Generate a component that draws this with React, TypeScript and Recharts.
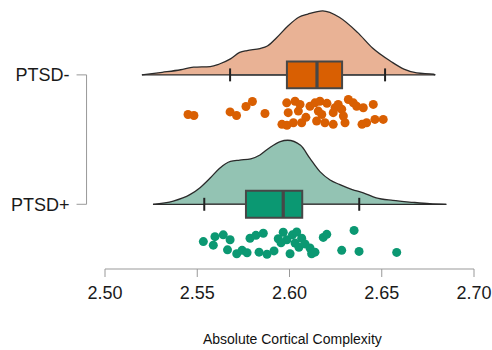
import React from "react";
import { Area, ComposedChart, Label, ReferenceArea, ReferenceLine, Scatter, XAxis, YAxis } from "recharts";

// groups, bottom to top on the y axis
const GROUPS = ["PTSD+", "PTSD-"];
const X_TICKS = [2.5, 2.55, 2.6, 2.65, 2.7];

// density curves (relative height, peak = 1)
const MINUS_DENS_X = [2.52, 2.531, 2.541, 2.548, 2.557, 2.562, 2.568, 2.573, 2.577, 2.584, 2.588, 2.593, 2.599, 2.605, 2.61, 2.618, 2.627, 2.637, 2.645, 2.655, 2.662, 2.669, 2.678, 2.679];
const MINUS_DENS_Y = [0, 0.04, 0.08, 0.12, 0.13, 0.17, 0.25, 0.35, 0.38, 0.41, 0.45, 0.58, 0.76, 0.9, 0.95, 1, 0.9, 0.66, 0.42, 0.21, 0.09, 0.03, 0.01, 0];
const PLUS_DENS_X = [2.526, 2.537, 2.546, 2.5515, 2.557, 2.562, 2.568, 2.573, 2.579, 2.584, 2.589, 2.595, 2.599, 2.606, 2.611, 2.6165, 2.622, 2.627, 2.634, 2.64, 2.647, 2.656, 2.667, 2.676, 2.685];
const PLUS_DENS_Y = [0, 0.05, 0.15, 0.26, 0.41, 0.56, 0.67, 0.69, 0.71, 0.77, 0.88, 0.98, 1, 0.92, 0.72, 0.51, 0.38, 0.31, 0.23, 0.18, 0.1, 0.06, 0.03, 0.01, 0];

// box stats: lower whisker, q1, median, q3, upper whisker
const MINUS_BOX = [2.5678, 2.5986, 2.6149, 2.6285, 2.6518];
const PLUS_BOX = [2.5538, 2.5764, 2.5966, 2.6069, 2.6378];

// raw points: [value, jitter 0..1]
const MINUS_POINTS = [
  [2.545, 0.58], [2.5482, 0.62], [2.5678, 0.48], [2.5713, 0.62], [2.5764, 0.27], [2.5799, 0.08],
  [2.5867, 0.54], [2.5959, 0.96], [2.5986, 1.0], [2.5985, 0.13], [2.5993, 0.51], [2.603, 0.07],
  [2.6048, 0.45], [2.6021, 0.9], [2.6066, 0.9], [2.6111, 0.26], [2.6138, 0.13], [2.6165, 0.07],
  [2.6156, 0.45], [2.6175, 0.58], [2.6147, 0.83], [2.6192, 0.9], [2.6237, 0.51], [2.6247, 0.32],
  [2.6264, 0.19], [2.6283, 0.38], [2.6301, 0.9], [2.6319, 0.0], [2.6346, 0.13], [2.6364, 0.26],
  [2.64, 0.32], [2.6454, 0.19], [2.6418, 0.9], [2.6463, 0.77], [2.6508, 0.77], [2.6292, 0.64],
  [2.6237, 0.96], [2.6393, 0.96], [2.6089, 0.69], [2.6203, 0.15], [2.6057, 0.19],
];
const PLUS_POINTS = [
  [2.5533, 0.49], [2.5587, 0.63], [2.5596, 0.3], [2.5641, 0.23], [2.5678, 0.42], [2.5664, 0.81],
  [2.5714, 0.96], [2.5743, 0.83], [2.577, 0.92], [2.5786, 0.36], [2.5818, 0.25], [2.5858, 0.17],
  [2.5835, 0.9], [2.5878, 0.98], [2.5916, 0.85], [2.5939, 0.38], [2.5966, 0.13], [2.5986, 0.42],
  [2.6003, 0.96], [2.6016, 0.23], [2.6039, 0.12], [2.603, 0.55], [2.6066, 0.36], [2.6051, 0.71],
  [2.6111, 0.74], [2.612, 0.96], [2.6138, 0.9], [2.6183, 0.33], [2.6202, 0.21], [2.6283, 0.83],
  [2.635, 0.06], [2.6377, 0.87], [2.6581, 0.91], [2.5954, 0.54], [2.6084, 0.58],
];

const ORANGE = "#d95f02";
const GREEN = "#0b9872";
const FONT = "'Liberation Sans', Arial, Helvetica, sans-serif";

const DENS_H = 0.495;
const BOX_H = 0.104;
const CAP_H = 0.05;
const JIT_TOP = 0.19;
const JIT_SPAN = 0.2;

const densData = (xs: number[], ys: number[], base: number) =>
  xs.map((x, i) => ({ x, band: [base, base + ys[i] * DENS_H] }));
const pointData = (pts: number[][], base: number) =>
  pts.map(([v, j]) => ({ x: v, y: base - JIT_TOP - j * JIT_SPAN }));

function Box({ stats, base, fill }: { stats: number[]; base: number; fill: string }) {
  const [lo, q1, med, q3, hi] = stats;
  return (
    <>
      <ReferenceLine segment={[{ x: lo, y: base }, { x: q1, y: base }]} stroke="#474747" strokeWidth={1.6} ifOverflow="visible" />
      <ReferenceLine segment={[{ x: q3, y: base }, { x: hi, y: base }]} stroke="#474747" strokeWidth={1.6} ifOverflow="visible" />
      <ReferenceLine segment={[{ x: lo, y: base - CAP_H }, { x: lo, y: base + CAP_H }]} stroke="#222" strokeWidth={2} ifOverflow="visible" />
      <ReferenceLine segment={[{ x: hi, y: base - CAP_H }, { x: hi, y: base + CAP_H }]} stroke="#222" strokeWidth={2} ifOverflow="visible" />
      <ReferenceArea x1={q1} x2={q3} y1={base - BOX_H} y2={base + BOX_H} fill={fill} fillOpacity={1} stroke="#474747" strokeWidth={2} ifOverflow="visible" />
      <ReferenceLine segment={[{ x: med, y: base - BOX_H }, { x: med, y: base + BOX_H }]} stroke="#474747" strokeWidth={3.2} ifOverflow="visible" />
    </>
  );
}

export default function App() {
  const dot = (color: string) => (p: any) => <circle cx={p.cx} cy={p.cy} r={4.5} fill={color} />;
  return (
    <div style={{ position: "absolute", left: 0, top: 0, fontFamily: FONT }}>
      <ComposedChart width={492} height={350} margin={{ top: 5, right: 8.775, bottom: 0, left: 6.55 }}>
        <XAxis
          type="number"
          dataKey="x"
          domain={[2.49, 2.705]}
          allowDataOverflow
          ticks={X_TICKS}
          tickFormatter={(v: number) => v.toFixed(2)}
          axisLine={false}
          tickLine={{ stroke: "#999", strokeWidth: 1 }}
          tickSize={8}
          tickMargin={9}
          height={81}
          tick={{ fontSize: 18, fill: "#1a1a1a" }}
        >
          <Label value="Absolute Cortical Complexity" position="insideBottom" offset={6} dx={7.5} style={{ fontSize: 14, fill: "#111" }} />
        </XAxis>
        <YAxis
          type="number"
          dataKey="y"
          domain={[0.5, 2.54]}
          allowDataOverflow
          ticks={[1, 2]}
          tickFormatter={(v: number) => GROUPS[v - 1]}
          axisLine={false}
          tickLine={{ stroke: "#999", strokeWidth: 1 }}
          tickSize={10}
          tickMargin={7}
          width={80}
          tick={{ fontSize: 18, fill: "#1a1a1a" }}
        />
        <ReferenceLine segment={[{ x: 2.5, y: 0.5 }, { x: 2.7, y: 0.5 }]} stroke="#999" ifOverflow="visible" />
        <ReferenceLine segment={[{ x: 2.49, y: 1 }, { x: 2.49, y: 2 }]} stroke="#999" ifOverflow="visible" />
        <Area
          data={densData(MINUS_DENS_X, MINUS_DENS_Y, 2)}
          dataKey="band"
          type="monotone"
          fill="#e9b295"
          fillOpacity={1}
          stroke="#2b2b2b"
          strokeWidth={1.3}
          dot={false}
          activeDot={false}
          isAnimationActive={false}
        />
        <Area
          data={densData(PLUS_DENS_X, PLUS_DENS_Y, 1)}
          dataKey="band"
          type="monotone"
          fill="#93c3b3"
          fillOpacity={1}
          stroke="#2b2b2b"
          strokeWidth={1.3}
          dot={false}
          activeDot={false}
          isAnimationActive={false}
        />
        {Box({ stats: MINUS_BOX, base: 2, fill: ORANGE })}
        {Box({ stats: PLUS_BOX, base: 1, fill: GREEN })}
        <Scatter data={pointData(MINUS_POINTS, 2)} shape={dot(ORANGE)} isAnimationActive={false} />
        <Scatter data={pointData(PLUS_POINTS, 1)} shape={dot(GREEN)} isAnimationActive={false} />
      </ComposedChart>
    </div>
  );
}
